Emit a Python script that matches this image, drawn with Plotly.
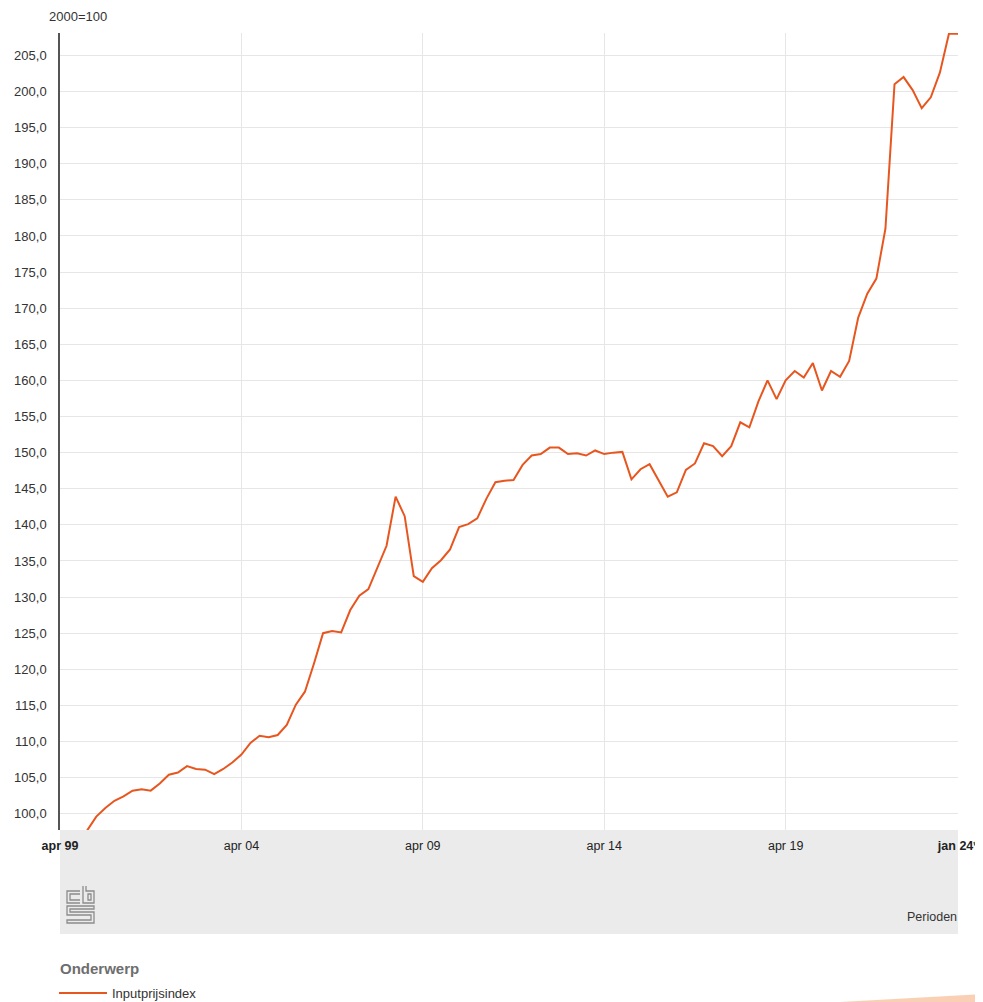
import plotly.graph_objects as go

# ---- data -------------------------------------------------------------
months = ["jan", "apr", "jul", "okt"]
periods = []
for k in range(100):
    q = (1 + k) % 4
    yr = 1999 + (1 + k) // 4
    periods.append(f"{months[q]} {yr % 100:02d}")
periods[-1] = periods[-1] + "*"

inputprijsindex = [
    93.5, 94.8, 96.3, 97.7, 99.6, 100.8, 101.8, 102.4, 103.2, 103.4,
    103.2, 104.2, 105.4, 105.7, 106.6, 106.2, 106.1, 105.5, 106.2, 107.1,
    108.2, 109.8, 110.8, 110.6, 110.9, 112.3, 115.1, 116.9, 120.8, 125.0,
    125.3, 125.1, 128.2, 130.2, 131.1, 134.0, 137.1, 143.9, 141.2, 132.9,
    132.1, 134.0, 135.1, 136.6, 139.7, 140.1, 140.9, 143.6, 145.9, 146.1,
    146.2, 148.3, 149.6, 149.8, 150.7, 150.7, 149.8, 149.9, 149.6, 150.3,
    149.8, 150.0, 150.1, 146.3, 147.7, 148.4, 146.2, 143.9, 144.5, 147.6,
    148.5, 151.3, 150.9, 149.5, 150.9, 154.2, 153.5, 157.1, 160.0, 157.4,
    160.0, 161.3, 160.4, 162.4, 158.6, 161.3, 160.5, 162.7, 168.7, 172.0,
    174.1, 181.0, 201.0, 202.0, 200.2, 197.7, 199.2, 202.6, 208.0, 208.0,
]

tick_periods = ["apr 99", "apr 04", "apr 09", "apr 14", "apr 19", "jan 24*"]
tick_texts = ["<b>apr 99</b>", "apr 04", "apr 09", "apr 14", "apr 19", "<b>jan 24*</b>"]

# ---- layout geometry (screen pixels; the page body adds an 8px offset) --
O = 8
SW, SH = 983, 1002
W, H = SW - O, SH - O
L, R, T, B = 60, 958, 33, 830
PW, PH = R - L, B - T


def px(x):
    return (x - L) / PW


def py(y):
    return (B - y) / PH


def path(cmds):
    out = []
    for c in cmds:
        if isinstance(c, str):
            out.append(c)
        else:
            out.append(f"{px(c[0]):.5f},{py(c[1]):.5f}")
    return " ".join(out)


FONT = "Liberation Sans, Arial, sans-serif"
ORANGE = "#e8561f"

fig = go.Figure()
fig.add_trace(go.Scatter(
    x=periods, y=inputprijsindex, mode="lines", name="Inputprijsindex",
    line=dict(color=ORANGE, width=2), cliponaxis=True,
))

shapes = []
# grey band under the plot
shapes.append(dict(type="rect", xref="paper", yref="paper", layer="below",
                   x0=0, x1=1, y0=py(934), y1=0,
                   fillcolor="#ebebeb", line=dict(width=0)))
# cbs logo (outline drawing)
logo_line = dict(color="#8c8c8c", width=1.3)
logo_paths = [
    ["M", (80, 891), "L", (67, 891), "L", (67, 903), "L", (80, 903)],
    ["M", (80, 894), "L", (70, 894), "L", (70, 900), "L", (80, 900)],
    ["M", (83, 886), "L", (83, 903), "L", (94, 903), "L", (94, 891), "L", (86, 891), "L", (86, 886)],
    ["M", (88, 894), "L", (91, 894), "L", (91, 900), "L", (88, 900), "Z"],
    ["M", (94, 906), "L", (67, 906), "L", (67, 915), "L", (91, 915), "L", (91, 920), "L", (67, 920), "L", (67, 923), "L", (94, 923), "L", (94, 912), "L", (70, 912), "L", (70, 909), "L", (94, 909), "Z"],
]
for p in logo_paths:
    shapes.append(dict(type="path", xref="paper", yref="paper", layer="above",
                       path=path(p), line=logo_line))
# decorative orange stripe bottom right
shapes.append(dict(type="path", xref="paper", yref="paper", layer="above",
                   path=path(["M", (840, 1002), "L", (983, 994), "L", (983, 1002), "Z"]),
                   fillcolor="rgba(245,170,120,0.55)", line=dict(width=0)))

annotations = [
    dict(text="2000=100", xref="paper", yref="paper", x=px(47), y=py(16),
         xanchor="left", yanchor="middle", showarrow=False,
         font=dict(family=FONT, size=13, color="#333333")),
    dict(text="Perioden", xref="paper", yref="paper", x=px(959), y=py(917),
         xanchor="right", yanchor="middle", showarrow=False,
         font=dict(family=FONT, size=12.5, color="#333333")),
    dict(text="<b>Onderwerp</b>", xref="paper", yref="paper", x=px(58), y=py(968),
         xanchor="left", yanchor="middle", showarrow=False,
         font=dict(family=FONT, size=15, color="#6e6e6e")),
]

fig.update_layout(
    width=W, height=H,
    margin=dict(l=L - O, r=W - (R - O), t=T - O, b=H - (B - O), pad=0, autoexpand=False),
    paper_bgcolor="white", plot_bgcolor="white",
    separators=",.",
    font=dict(family=FONT, size=12, color="#333333"),
    shapes=shapes, annotations=annotations,
    showlegend=True,
    legend=dict(orientation="h", x=px(54), y=py(978), xanchor="left", yanchor="top",
                font=dict(family=FONT, size=13, color="#333333"),
                bgcolor="rgba(0,0,0,0)", itemwidth=48),
    xaxis=dict(
        type="category", categoryorder="array", categoryarray=periods,
        range=[0, len(periods) - 1],
        tickmode="array", tickvals=tick_periods, ticktext=tick_texts,
        showgrid=True, gridcolor="#e6e6e6", gridwidth=1,
        showline=False, zeroline=False, ticks="",
        ticklabelstandoff=6, automargin=False,
        tickfont=dict(family=FONT, size=12.5, color="#222222"),
    ),
    yaxis=dict(
        range=[97.75, 208.1], tick0=100, dtick=5, tickformat=".1f",
        showgrid=True, gridcolor="#e6e6e6", gridwidth=1,
        showline=True, linecolor="#555555", linewidth=1.5,
        zeroline=False, ticks="", ticklabelstandoff=9, automargin=False,
        tickfont=dict(family=FONT, size=13, color="#333333"),
    ),
)

fig.write_html("out.html")
